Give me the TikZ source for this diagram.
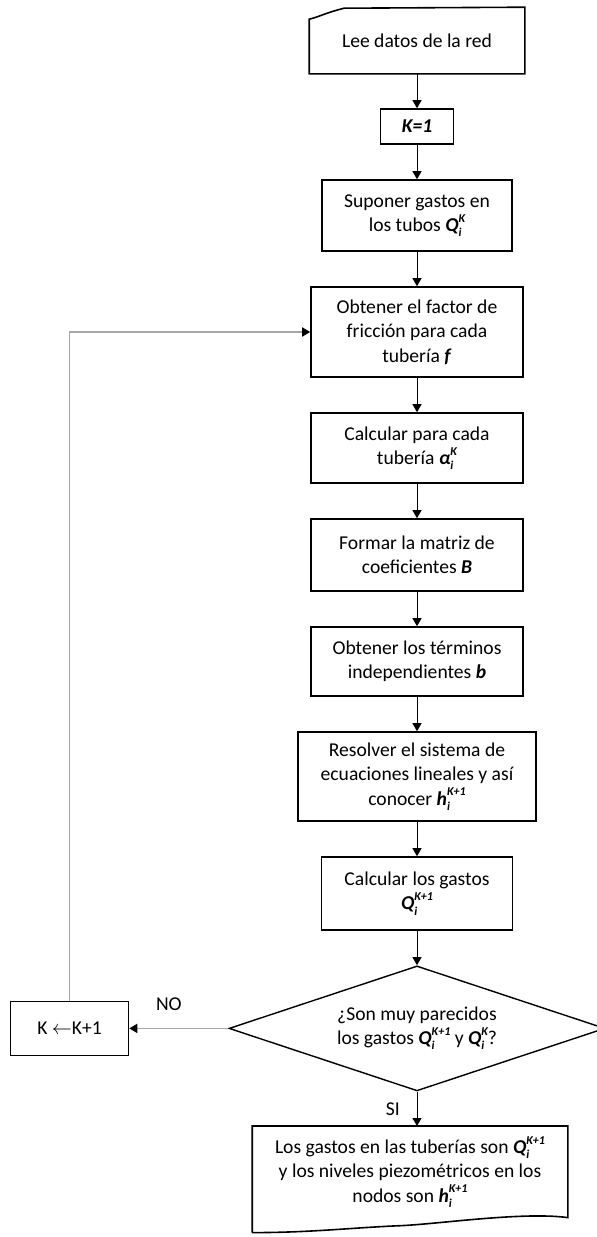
\documentclass[tikz,border=0pt]{standalone}
\usepackage{fontspec}
\setmainfont{Carlito}
\usetikzlibrary{positioning,shapes.geometric,arrows.meta}

% bold italic symbol with stacked sub- and superscript
\newcommand{\varsym}[3]{\textbf{\textit{#1}}\rlap{\raisebox{-0.55ex}{\fontsize{6}{6}\selectfont\bfseries\itshape #2}}\raisebox{1.0ex}{\fontsize{6}{6}\selectfont\bfseries\itshape #3}}

\tikzset{
  process/.style={rectangle, draw, line width=0.8pt, align=center, inner sep=2pt},
  outline/.style={draw, line width=0.8pt},
  decision/.style={diamond, draw, line width=0.7pt, aspect=3, align=center, inner sep=0pt, minimum width=188pt, minimum height=62.5pt},
  flow/.style={-{Triangle[length=4pt,width=4.5pt]}, line width=0.5pt},
  back/.style={-{Triangle[length=4pt,width=4.5pt,color=black]}, draw=gray!70, line width=0.9pt}
}

\begin{document}
\begin{tikzpicture}[node distance=17.2pt, font=\fontsize{9.8}{12.2}\selectfont]

\useasboundingbox (0,0) rectangle (298.5pt,-618.5pt);

% Read network data
\node (input) [process, draw=none, minimum width=107pt, minimum height=32.5pt] at (208.5pt,-20.25pt) {Lee datos de la red};
\draw[outline] (input.south west) -- ([yshift=-6pt]input.north west) .. controls +(4pt,1pt) and +(-3pt,-1pt) .. ([xshift=9pt,yshift=-3pt]input.north west) .. controls +(3pt,1pt) and +(-4pt,-1pt) .. ([xshift=17.5pt,yshift=-0.5pt]input.north west) -- (input.north east) -- (input.south east) -- cycle;

% K=1
\node (start) [process, minimum width=36.5pt, minimum height=17.5pt, below=of input] {\textbf{\textit{K=1}}};

% Assume flows
\node (assume) [process, minimum width=95pt, minimum height=35.5pt, below=of start] {Suponer gastos en\\los tubos \varsym{Q}{i}{K}};

% Friction factor
\node (friction) [process, minimum width=106pt, minimum height=45pt, below=of assume] {Obtener el factor de\\fricción para cada\\tubería \textbf{\textit{f}}};

% Alpha for each pipe
\node (alpha) [process, minimum width=106pt, minimum height=35pt, below=of friction] {Calcular para cada\\tubería \varsym{α}{i}{K}};

% Coefficient matrix
\node (matrix) [process, minimum width=106pt, minimum height=36pt, below=of alpha] {Formar la matriz de\\coeficientes \textbf{\textit{B}}};

% Independent terms
\node (terms) [process, minimum width=106pt, minimum height=34.5pt, below=of matrix] {Obtener los términos\\independientes \textbf{\textit{b}}};

% Solve linear system
\node (solve) [process, minimum width=119pt, minimum height=44.5pt, below=of terms] {Resolver el sistema de\\ecuaciones lineales y así\\conocer \varsym{h}{i}{K+1}};

% New flows
\node (flows) [process, minimum width=95.5pt, minimum height=36.5pt, below=of solve] {Calcular los gastos\\\varsym{Q}{i}{K+1}};

% Convergence check
\node (check) [decision, below=of flows] {¿Son muy parecidos\\los gastos \varsym{Q}{i}{K+1} y \varsym{Q}{i}{K}?};

% Next iteration
\node (next) [process, minimum width=59pt, minimum height=27pt, left=49.5pt of check] {K $\leftarrow$K+1};

% Results
\node (output) [process, draw=none, minimum width=157pt, minimum height=45pt, below=of check, xshift=-3.5pt] {Los gastos en las tuberías son \varsym{Q}{i}{K+1}\\y los niveles piezométricos en los\\nodos son \varsym{h}{i}{K+1}};
\draw[outline] ([yshift=-7.5pt]output.south west) -- (output.north west) -- (output.north east) -- (output.south east) .. controls +(-22pt,3pt) and +(20pt,1pt) .. ([xshift=-4pt,yshift=-4pt]output.south) .. controls +(-25pt,-1pt) and +(30pt,0pt) .. ([yshift=-7.5pt]output.south west);

% Arrows
\draw[flow] (input) -- (start);
\draw[flow] (start) -- (assume);
\draw[flow] (assume) -- (friction);
\draw[flow] (friction) -- (alpha);
\draw[flow] (alpha) -- (matrix);
\draw[flow] (matrix) -- (terms);
\draw[flow] (terms) -- (solve);
\draw[flow] (solve) -- (flows);
\draw[flow] (flows) -- (check);
\draw[flow] (check.south) -- node[left=5pt] (yes) {SI} (check.south |- output.north);
\draw[back] (check.west) -- node[pos=0.6, above=5pt] (no) {NO} (next.east);
\draw[back] (next.north) |- (friction.west);

\end{tikzpicture}
\end{document}
